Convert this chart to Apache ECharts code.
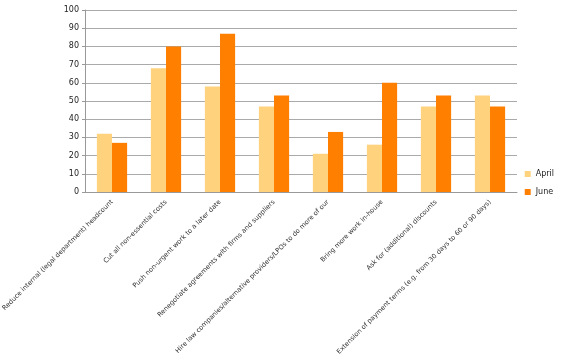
<!DOCTYPE html>
<html><head><meta charset="utf-8">
<script src="https://cdn.jsdelivr.net/npm/echarts@6/dist/echarts.min.js"></script>
<style>html,body{margin:0;padding:0;background:#fff}#c{width:563px;height:362px}</style>
</head><body><div id="c"></div>
<script>
const categories = [
  "Reduce internal (legal department) headcount",
  "Cut all non-essential costs",
  "Push non-urgent work to a later date",
  "Renegotiate agreements with firms and suppliers",
  "Hire law companies/alternative providers/LPOs to do more of our",
  "Bring more work in-house",
  "Ask for (additional) discounts",
  "Extension of payment terms (e.g. from 30 days to 60 or 90 days)"
];
const april = [32, 68, 58, 47, 21, 26, 47, 53];
const june = [27, 80, 87, 53, 33, 60, 53, 47];
const yTicks = { min: 0, max: 100, interval: 10 };

const chart = echarts.init(document.getElementById('c'));
chart.setOption({
  animation: false,
  textStyle: { fontFamily: 'DejaVu Sans' },
  grid: { left: 85, right: 46, top: 10, bottom: 170, containLabel: false, outerBoundsMode: 'none' },
  legend: {
    orient: 'vertical', right: 4, top: 165, itemWidth: 6, itemHeight: 6, itemGap: 10,
    icon: 'rect',
    textStyle: { fontSize: 8, color: '#222', fontFamily: 'DejaVu Sans' },
    data: ['April', 'June']
  },
  xAxis: {
    type: 'category', data: categories,
    axisLine: { lineStyle: { color: '#999' } },
    axisTick: { lineStyle: { color: '#999' }, length: 4 },
    axisLabel: { rotate: 45, interval: 0, fontSize: 6.6, color: '#333', margin: 9 }
  },
  yAxis: {
    type: 'value', min: yTicks.min, max: yTicks.max, interval: yTicks.interval,
    axisLine: { show: true, lineStyle: { color: '#999' } },
    axisTick: { show: true, lineStyle: { color: '#999' }, length: 3 },
    splitLine: { lineStyle: { color: '#aaa', width: 1 } },
    axisLabel: { fontSize: 8, color: '#222', margin: 6 }
  },
  series: [
    { name: 'April', type: 'bar', data: april, barGap: '0%', barCategoryGap: '44%',
      itemStyle: { color: '#FFD27D' } },
    { name: 'June', type: 'bar', data: june, barGap: '0%', barCategoryGap: '44%',
      itemStyle: { color: '#FF7F00' } }
  ]
});
</script></body></html>
